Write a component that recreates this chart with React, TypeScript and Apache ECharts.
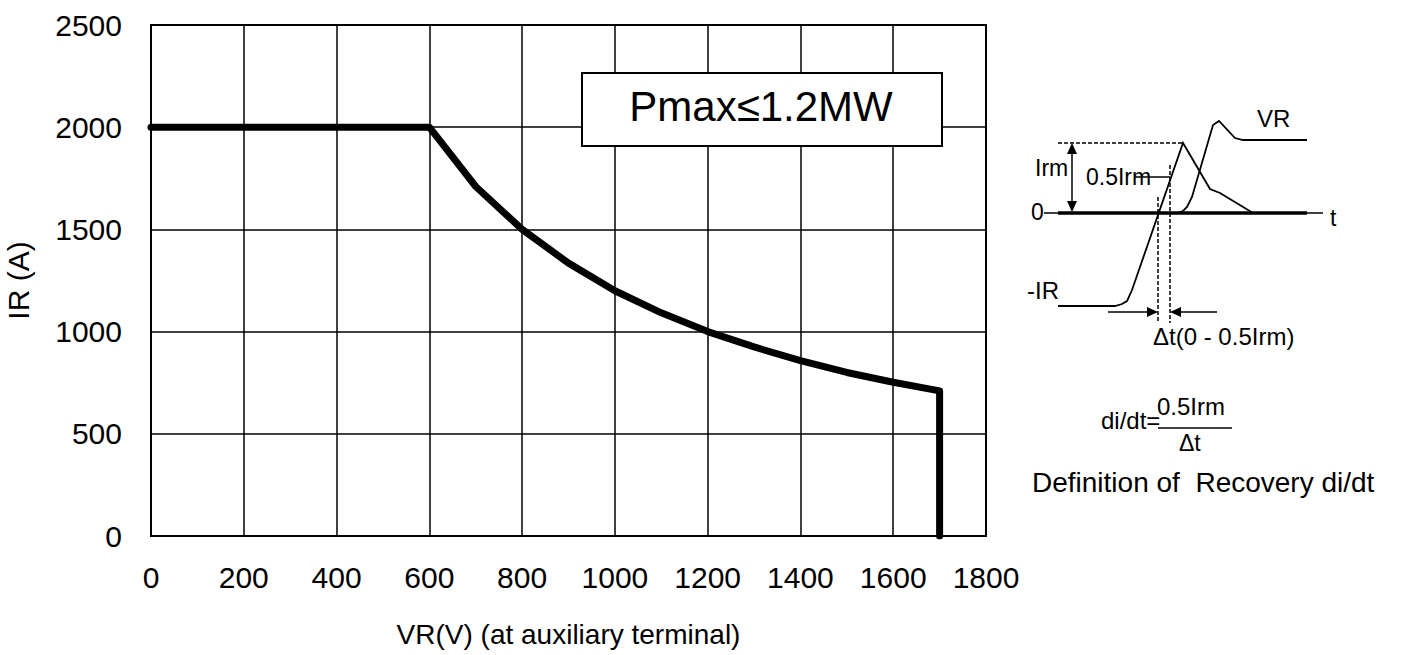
import React, { useEffect, useRef } from "react";
import * as echarts from "echarts";

const vrValues = [0, 600, 700, 800, 900, 1000, 1100, 1200, 1300, 1400, 1500, 1600, 1700, 1700];
const irValues = [2000, 2000, 1710, 1500, 1335, 1200, 1092, 1000, 925, 858, 800, 752, 710, 0];
const xAxisName = "VR(V) (at auxiliary terminal)";
const yAxisName = "IR (A)";
const boxLabel = "Pmax≤1.2MW";

const FONT = '"Liberation Sans", Arial, sans-serif';

function txt(text: string, x: number, y: number, size: number, align = "left", vAlign = "middle") {
  return {
    type: "text",
    x,
    y,
    style: { text, fontSize: size, fontFamily: FONT, fill: "#000", align, verticalAlign: vAlign },
  };
}
function ln(x1: number, y1: number, x2: number, y2: number, w = 1.5, dash?: number[]) {
  return {
    type: "line",
    shape: { x1, y1, x2, y2 },
    style: { stroke: "#000", lineWidth: w, lineDash: dash },
  };
}
function poly(points: number[][], w = 1.5) {
  return { type: "polyline", shape: { points }, style: { stroke: "#000", lineWidth: w, fill: null } };
}
function tri(points: number[][]) {
  return { type: "polygon", shape: { points }, style: { fill: "#000" } };
}

export default function App() {
  const ref = useRef<HTMLDivElement>(null);
  useEffect(() => {
    document.body.style.margin = "0";
    const chart = echarts.init(ref.current!, null, { renderer: "svg" });
    const data = vrValues.map((v, i) => [v, irValues[i]]);
    const graphic: any[] = [
      // Pmax box
      {
        type: "rect",
        shape: { x: 582, y: 73, width: 360, height: 73 },
        style: { fill: "#fff", stroke: "#000", lineWidth: 2 },
        z: 10,
      },
      { ...txt(boxLabel, 761, 106, 42, "center"), z: 11 },
      // Right diagram
      ln(1058, 143, 1183, 143, 1.5, [4, 2]),
      ln(1072, 150, 1072, 205, 1.5),
      tri([[1072, 143], [1067, 154], [1077, 154]]),
      tri([[1072, 212], [1067, 201], [1077, 201]]),
      txt("Irm", 1035, 168, 23),
      txt("0.5Irm", 1086, 177, 23),
      ln(1135, 177, 1170, 177, 1.5),
      txt("0", 1031, 212, 23),
      ln(1044, 213, 1323, 213, 1.5),
      ln(1058, 213, 1307, 213, 3.5),
      txt("t", 1330, 218, 23),
      txt("VR", 1257, 118, 24),
      txt("-IR", 1027, 290, 24),
      poly([
        [1058, 306],
        [1115, 306],
        [1122, 304],
        [1127, 301],
        [1132, 290],
        [1183, 143],
        [1210, 189],
        [1220, 193],
        [1253, 213],
      ], 1.8),
      poly([
        [1177, 213],
        [1183, 211],
        [1187, 207],
        [1192, 197],
        [1213, 125],
        [1219, 121],
        [1235, 138],
        [1243, 140],
        [1307, 140],
      ], 1.8),
      ln(1158, 197, 1158, 323, 1.5, [4, 2]),
      ln(1170, 165, 1170, 323, 1.5, [4, 2]),
      ln(1108, 312, 1148, 312, 1.5),
      tri([[1158, 312], [1147, 307], [1147, 317]]),
      ln(1217, 312, 1180, 312, 1.5),
      tri([[1170, 312], [1181, 307], [1181, 317]]),
      txt("Δt(0 - 0.5Irm)", 1153, 336, 24),
      txt("di/dt=", 1101, 420, 24),
      txt("0.5Irm", 1157, 406, 24),
      ln(1158, 428, 1232, 428, 1.5),
      txt("Δt", 1179, 443, 23),
      txt("Definition of  Recovery di/dt", 1032, 482, 28),
    ];
    chart.setOption({
      animation: false,
      backgroundColor: "#fff",
      grid: {
        left: 151,
        right: 416,
        top: 25,
        bottom: 119,
        containLabel: false,
        outerBoundsMode: "none",
        show: true,
        borderColor: "#000",
        borderWidth: 2,
      },
      xAxis: {
        type: "value",
        min: 0,
        max: 1800,
        interval: 200,
        name: xAxisName,
        nameLocation: "middle",
        nameGap: 84,
        nameTextStyle: { fontSize: 28, fontFamily: FONT, color: "#000" },
        axisLine: { show: true, lineStyle: { color: "#000", width: 2 } },
        axisTick: { show: false },
        axisLabel: { fontSize: 30, fontFamily: FONT, color: "#000", margin: 26, formatter: (v: number) => String(v) },
        splitLine: { show: true, lineStyle: { color: "#000", width: 1.5 } },
      },
      yAxis: {
        type: "value",
        min: 0,
        max: 2500,
        interval: 500,
        name: yAxisName,
        nameLocation: "middle",
        nameGap: 118,
        nameTextStyle: { fontSize: 30, fontFamily: FONT, color: "#000" },
        axisLine: { show: true, lineStyle: { color: "#000", width: 2 } },
        axisTick: { show: false },
        axisLabel: { fontSize: 30, fontFamily: FONT, color: "#000", margin: 29, formatter: (v: number) => String(v) },
        splitLine: { show: true, lineStyle: { color: "#000", width: 1.5 } },
      },
      series: [
        {
          type: "line",
          data,
          symbol: "none",
          lineStyle: { color: "#000", width: 7, cap: "round", join: "round" },
          z: 5,
        },
      ],
      graphic,
    });
    return () => chart.dispose();
  }, []);
  return <div ref={ref} style={{ width: 1402, height: 655 }} />;
}
